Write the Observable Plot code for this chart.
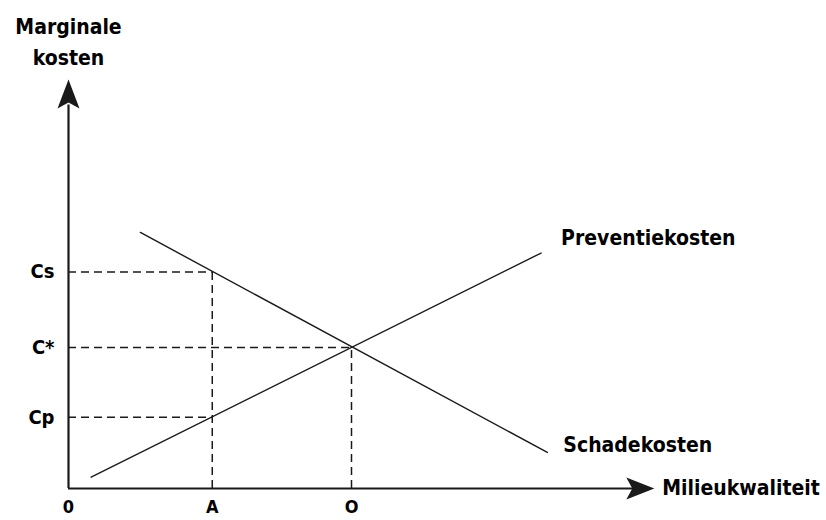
<!DOCTYPE html>
<html>
<head>
<meta charset="utf-8">
<script src="https://cdn.jsdelivr.net/npm/d3@7"></script>
<script src="https://cdn.jsdelivr.net/npm/@observablehq/plot@0.6"></script>
<style>
  html, body { margin: 0; padding: 0; background: #fff; }
  #chart svg { display: block; }
</style>
</head>
<body>
<div id="chart"></div>
<script>
// --- data (abstract units: quality on x, marginal cost on y) ---
const preventie = [{x: 0.4, y: 0.4}, {x: 8.35, y: 8.35}];
const schade = [{x: 1.27, y: 9.08}, {x: 8.46, y: 1.28}];
const yTicks = [{label: "Cs", y: 7.68}, {label: "C*", y: 5.0}, {label: "Cp", y: 2.53}];
const xTicks = [{label: "0", x: 0}, {label: "A", x: 2.54}, {label: "O", x: 5.0}];
// guide (dashed) segments: from axis to the curves
const hGuides = [{y: 7.68, x2: 2.54}, {y: 5.0, x2: 5.0}, {y: 2.53, x2: 2.54}];
const vGuides = [{x: 2.54, y2: 7.68}, {x: 5.0, y2: 5.0}];
const axisTips = {x: 10.35, y: 14.5};
const axisLineEnds = {x: 10.0, y: 13.6};
const yTitle = "Marginale\nkosten";
const xTitle = "Milieukwaliteit";
const labelPreventie = "Preventiekosten";
const labelSchade = "Schadekosten";

const ink = "#1a1a1a";
const font = "DejaVu Sans Condensed, DejaVu Sans, sans-serif";

const arrowUp = {
  draw(ctx, size) {
    const k = Math.sqrt(size / Math.PI) / 11;
    ctx.moveTo(0, 0);
    ctx.lineTo(-11 * k, 29 * k);
    ctx.lineTo(0, 23 * k);
    ctx.lineTo(11 * k, 29 * k);
    ctx.closePath();
  }
};
const arrowRight = {
  draw(ctx, size) {
    const k = Math.sqrt(size / Math.PI) / 11;
    ctx.moveTo(0, 0);
    ctx.lineTo(-28 * k, -11 * k);
    ctx.lineTo(-22 * k, 0);
    ctx.lineTo(-28 * k, 11 * k);
    ctx.closePath();
  }
};

const txt = {fontWeight: "bold", fill: "#000"};

const chart = Plot.plot({
  width: 826,
  height: 520,
  marginLeft: 68,
  marginRight: 192,
  marginTop: 206,
  marginBottom: 32,
  x: {domain: [0, 10], axis: null},
  y: {domain: [0, 10], axis: null},
  style: {fontFamily: font, background: "#fff", overflow: "visible"},
  marks: [
    // dashed guides
    Plot.ruleY(hGuides, {y: "y", x1: 0, x2: "x2", stroke: ink, strokeWidth: 1.5, strokeDasharray: "8,5"}),
    Plot.ruleX(vGuides, {x: "x", y1: 0, y2: "y2", stroke: ink, strokeWidth: 1.5, strokeDasharray: "8,5"}),
    // curves
    Plot.line(preventie, {x: "x", y: "y", stroke: ink, strokeWidth: 1.4}),
    Plot.line(schade, {x: "x", y: "y", stroke: ink, strokeWidth: 1.4}),
    // axes
    Plot.ruleX([0], {y1: 0, y2: axisLineEnds.y, stroke: ink, strokeWidth: 2.2}),
    Plot.ruleY([0], {x1: 0, x2: axisLineEnds.x, stroke: ink, strokeWidth: 2.2}),
    Plot.dot([{x: 0, y: axisTips.y}], {x: "x", y: "y", r: 11, symbol: arrowUp, fill: ink, stroke: "none"}),
    Plot.dot([{x: axisTips.x, y: 0}], {x: "x", y: "y", r: 11, symbol: arrowRight, fill: ink, stroke: "none"}),
    // tick labels
    Plot.text(yTicks, {x: 0, y: "y", text: "label", dx: -14, textAnchor: "end", fontSize: 20, ...txt}),
    Plot.text(xTicks, {x: "x", y: 0, text: "label", dy: 19, fontSize: 18, ...txt}),
    // titles
    Plot.text([yTitle], {x: 0, y: axisTips.y, text: d => d, dy: -40, lineHeight: 1.45, fontSize: 21, ...txt}),
    Plot.text([xTitle], {x: axisTips.x, y: 0, text: d => d, dx: 8, textAnchor: "start", fontSize: 21, ...txt}),
    // curve labels
    Plot.text([preventie[1]], {x: "x", y: "y", text: () => labelPreventie, dx: 20, dy: -15, textAnchor: "start", fontSize: 21, ...txt}),
    Plot.text([schade[1]], {x: "x", y: "y", text: () => labelSchade, dx: 16, dy: -7, textAnchor: "start", fontSize: 21, ...txt})
  ]
});
document.getElementById("chart").appendChild(chart);
</script>
</body>
</html>
